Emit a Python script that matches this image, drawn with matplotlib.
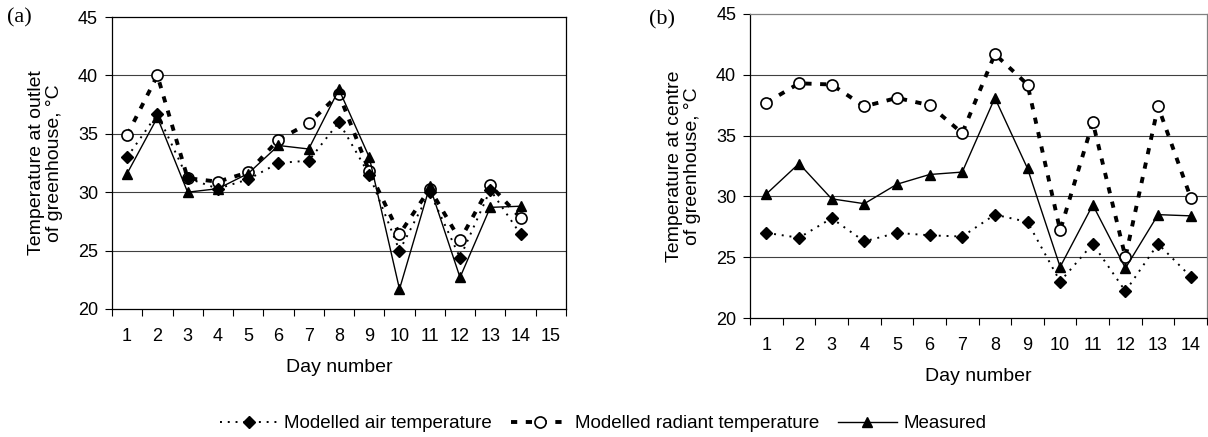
import numpy as np
import matplotlib
matplotlib.use("Agg")
import matplotlib.pyplot as plt

plt.rcParams['font.family'] = ['Liberation Sans', 'DejaVu Sans']

# panel (a): outlet of greenhouse
days_a = np.arange(1, 15)
air_a = [33.0, 36.7, 31.2, 30.3, 31.1, 32.5, 32.7, 36.0, 31.5, 25.0, 30.0, 24.4, 30.2, 26.4]
rad_a = [34.9, 40.0, 31.2, 30.9, 31.7, 34.5, 35.9, 38.4, 31.8, 26.4, 30.3, 25.9, 30.6, 27.8]
meas_a = [31.6, 36.4, 30.0, 30.3, 31.6, 34.0, 33.7, 38.8, 33.0, 21.7, 30.5, 22.7, 28.7, 28.8]

# panel (b): centre of greenhouse
days_b = np.arange(1, 15)
air_b = [27.0, 26.6, 28.2, 26.3, 27.0, 26.8, 26.7, 28.5, 27.9, 23.0, 26.1, 22.2, 26.1, 23.4]
rad_b = [37.7, 39.3, 39.2, 37.4, 38.1, 37.5, 35.2, 41.7, 39.2, 27.2, 36.1, 25.0, 37.4, 29.9]
meas_b = [30.2, 32.7, 29.8, 29.4, 31.0, 31.8, 32.0, 38.1, 32.3, 24.2, 29.3, 24.1, 28.5, 28.4]

fig = plt.figure(figsize=(12.08, 4.37), dpi=100)
ax1 = fig.add_axes([0.0927, 0.293, 0.3758, 0.668])
ax2 = fig.add_axes([0.6209, 0.2723, 0.3783, 0.6957])


def draw(ax, days, air, rad, meas, ncat, ylabel):
    for g in [25, 30, 35, 40]:
        ax.axhline(g, color='#404040', lw=0.8, zorder=0)
    ax.plot(days, air, linestyle=(0, (1, 3)), lw=1.4, color='black', marker='D',
            markersize=6, label='Modelled air temperature', zorder=3)
    ax.plot(days, rad, linestyle=(0, (1.6, 2.2)), lw=2.8, color='black', marker='o',
            markersize=8, markerfacecolor='white', markeredgewidth=1.2,
            label='Modelled radiant temperature', zorder=2)
    ax.plot(days, meas, linestyle='-', lw=1.0, color='black', marker='^',
            markersize=7.5, label='Measured', zorder=4)
    ax.set_xlim(0.5, ncat + 0.5)
    ax.set_ylim(20, 45)
    ax.set_yticks([20, 25, 30, 35, 40, 45])
    ax.set_xticks(np.arange(0.5, ncat + 1, 1))
    ax.set_xticklabels([])
    ax.set_xticks(np.arange(1, ncat + 1), minor=True)
    ax.set_xticklabels([str(i) for i in range(1, ncat + 1)], minor=True)
    ax.tick_params(axis='x', which='major', direction='out', length=5, width=0.8)
    ax.tick_params(axis='x', which='minor', length=0, pad=14, labelsize=13)
    ax.tick_params(axis='y', direction='out', length=5, width=0.8, labelsize=13, pad=5)
    ax.set_xlabel('Day number', fontsize=14, labelpad=10)
    ax.set_ylabel(ylabel, fontsize=14, labelpad=11, linespacing=1.05)
    for s in ax.spines.values():
        s.set_linewidth(0.9)


draw(ax1, days_a, air_a, rad_a, meas_a, 15, 'Temperature at outlet\nof greenhouse, °C')
draw(ax2, days_b, air_b, rad_b, meas_b, 14, 'Temperature at centre\nof greenhouse, °C')
ax2.spines['top'].set_color('#808080')
ax2.spines['right'].set_color('#808080')

fig.text(0.006, 0.96, '(a)', fontsize=16, family='Liberation Serif', va='center')
fig.text(0.537, 0.955, '(b)', fontsize=16, family='Liberation Serif', va='center')

handles, labels = ax1.get_legend_handles_labels()
fig.legend(handles, labels, loc='center', bbox_to_anchor=(0.499, 0.03), ncol=3,
           frameon=False, fontsize=13.5, handlelength=3.1, columnspacing=1.0,
           handletextpad=0.35, borderpad=0)

fig.savefig('out.png', dpi=100)
